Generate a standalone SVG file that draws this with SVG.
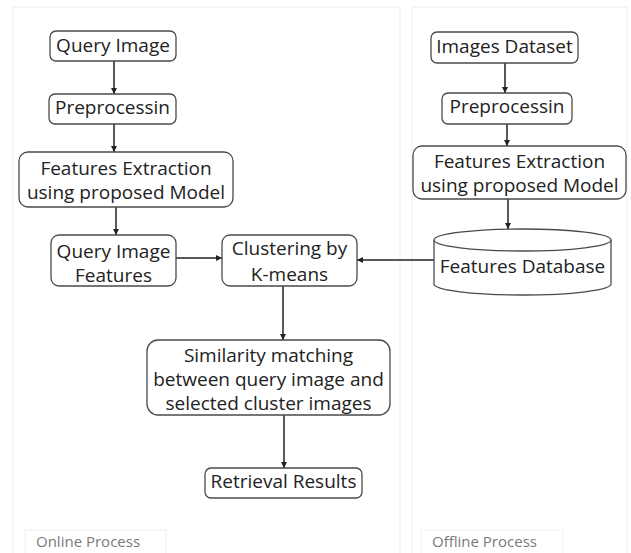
<svg xmlns="http://www.w3.org/2000/svg" width="631" height="553" viewBox="0 0 631 553">
  <style>
    .panel { fill: #ffffff; stroke: #eeeeee; stroke-width: 1; }
    .tag { fill: #ffffff; stroke: #f0f0f0; stroke-width: 1; }
    .tag-text { font-family: "Open Sans", "Liberation Sans", sans-serif; font-size: 15px; fill: #7a7a7a; }
    .box { fill: #ffffff; stroke: #4a4a4a; stroke-width: 1.3; }
    .label { font-family: "Open Sans", "Liberation Sans", sans-serif; font-size: 19px; fill: #222222; text-anchor: middle; }
    .wire { stroke: #222222; stroke-width: 1.5; fill: none; marker-end: url(#head); }
  </style>
  <defs>
    <marker id="head" viewBox="0 0 10 10" refX="10" refY="5" markerWidth="6" markerHeight="6" markerUnits="userSpaceOnUse" orient="auto">
      <path d="M0,0 L10,5 L0,10 z" fill="#222222"/>
    </marker>
  </defs>

  <rect width="631" height="553" fill="#ffffff"/>

  <!-- swimlanes -->
  <g id="online-lane">
    <rect class="panel" x="13" y="7" width="387" height="556"/>
    <rect class="tag" x="25" y="530" width="141" height="30"/>
    <text class="tag-text" x="36" y="547">Online Process</text>
  </g>
  <g id="offline-lane">
    <rect class="panel" x="412" y="7" width="215" height="556"/>
    <rect class="tag" x="421" y="530" width="142" height="30"/>
    <text class="tag-text" x="432" y="547">Offline Process</text>
  </g>

  <!-- connectors -->
  <g id="connectors">
    <line class="wire" x1="114" y1="61" x2="114" y2="94"/>
    <line class="wire" x1="114" y1="124" x2="114" y2="152"/>
    <line class="wire" x1="116" y1="207" x2="116" y2="235"/>
    <line class="wire" x1="176" y1="258" x2="222" y2="258"/>
    <line class="wire" x1="434" y1="260" x2="357" y2="260"/>
    <line class="wire" x1="283" y1="286" x2="283" y2="340"/>
    <line class="wire" x1="284" y1="415" x2="284" y2="468"/>
    <line class="wire" x1="505" y1="63" x2="505" y2="93"/>
    <line class="wire" x1="507" y1="124" x2="507" y2="146"/>
    <line class="wire" x1="508" y1="199" x2="508" y2="229"/>
  </g>

  <!-- online nodes -->
  <g id="query-image">
    <rect class="box" x="50" y="31" width="126" height="30" rx="6"/>
    <text class="label" x="113" y="52">Query Image</text>
  </g>
  <g id="preprocess-online">
    <rect class="box" x="49" y="94" width="127" height="30" rx="6"/>
    <text class="label" x="112.5" y="114">Preprocessin</text>
  </g>
  <g id="extract-online">
    <rect class="box" x="19" y="152" width="214" height="55" rx="9"/>
    <text class="label" x="126" y="175">Features Extraction</text>
    <text class="label" x="126" y="199">using proposed Model</text>
  </g>
  <g id="query-features">
    <rect class="box" x="51" y="235" width="125" height="51" rx="8"/>
    <text class="label" x="113.5" y="258">Query Image</text>
    <text class="label" x="113.5" y="282">Features</text>
  </g>
  <g id="clustering">
    <rect class="box" x="222" y="235" width="135" height="51" rx="8"/>
    <text class="label" x="289.5" y="255">Clustering by</text>
    <text class="label" x="289.5" y="281">K-means</text>
  </g>
  <g id="similarity">
    <rect class="box" x="147" y="340" width="243" height="75" rx="11"/>
    <text class="label" x="268.5" y="362">Similarity matching</text>
    <text class="label" x="268.5" y="386">between query image and</text>
    <text class="label" x="268.5" y="410">selected cluster images</text>
  </g>
  <g id="retrieval">
    <rect class="box" x="205" y="468" width="157" height="30" rx="6"/>
    <text class="label" x="283.5" y="488">Retrieval Results</text>
  </g>

  <!-- offline nodes -->
  <g id="images-dataset">
    <rect class="box" x="431" y="32" width="147" height="31" rx="6"/>
    <text class="label" x="504.5" y="53">Images Dataset</text>
  </g>
  <g id="preprocess-offline">
    <rect class="box" x="442" y="93" width="130" height="31" rx="6"/>
    <text class="label" x="507" y="113">Preprocessin</text>
  </g>
  <g id="extract-offline">
    <rect class="box" x="413" y="146" width="213" height="53" rx="9"/>
    <text class="label" x="519.5" y="168">Features Extraction</text>
    <text class="label" x="519.5" y="192">using proposed Model</text>
  </g>
  <g id="features-database">
    <path class="box" d="M434,240 L434,284 A88.5,11 0 0 0 611,284 L611,240 A88.5,11 0 0 0 434,240 Z"/>
    <path class="box" fill="none" d="M434,240 A88.5,11 0 0 0 611,240"/>
    <text class="label" x="522.5" y="273">Features Database</text>
  </g>
</svg>
